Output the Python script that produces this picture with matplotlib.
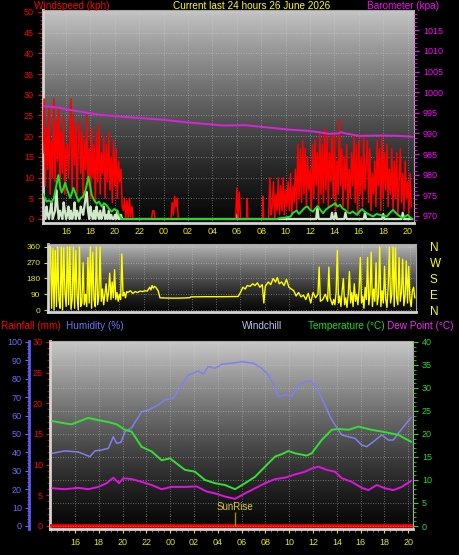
import matplotlib
matplotlib.use("Agg")
import matplotlib.pyplot as plt
import numpy as np
from matplotlib.ticker import MultipleLocator

plt.rcParams['font.family'] = ['Liberation Sans', 'DejaVu Sans']

# hours counted from midnight of the first day (24 = 00 of the next day)

# wind speed (kph), red trace, 6 min samples in the windy spells
gust_a_start = 14.1
gust_a = [16, 29, 8, 22, 12, 27, 6, 19, 10, 29,
          9, 24, 14, 27, 7, 21, 11, 25, 6, 17,
          18, 10, 20, 29, 7, 25, 13, 23, 6, 18,
          24, 11, 21, 5, 19, 12, 25, 8, 17, 5,
          22, 10, 18, 4, 21, 9, 23, 6, 16, 11,
          20, 5, 18, 9, 21, 7, 15, 4, 19, 8,
          17, 5, 14, 9, 12, 3]
gust_b_t = [20.7, 20.8, 20.9, 21.0, 21.1, 21.2, 21.3, 21.4, 21.5,
            23.0, 23.1, 23.2, 23.3,
            24.6, 24.7, 24.8, 24.9, 25.0, 25.1, 25.2,
            29.9, 30.0, 30.1, 30.2, 30.3,
            30.8, 30.85, 30.9,
            32.1, 32.15, 32.2,
            32.6, 32.7, 32.8, 32.9, 33.0, 33.1, 33.2, 33.3, 33.4, 33.5]
gust_b = [2, 5, 0, 4.5, 0, 5, 0.5, 3, 0,
          0, 2, 2, 0,
          0, 4, 1, 5.5, 3, 5, 0,
          0, 7.5, 0, 6.5, 0,
          0, 5, 0,
          0, 5.5, 0,
          0, 10, 1, 3, 9, 0, 6, 2, 10, 1]
gust_c_start = 33.6
gust_c = [8, 2, 10, 1, 7, 3, 9, 2, 11, 1, 8, 4, 12, 2, 18, 5, 17,
          4, 19, 6, 17, 3, 15, 7, 12, 2, 18,
          5, 19, 8, 16, 3, 21, 6, 18, 4, 22,
          7, 20, 3, 16, 9, 21, 5, 20, 2, 14,
          6, 24, 8, 17, 3, 15, 7, 18, 2, 12,
          5, 16, 8, 20, 4, 18, 1, 19, 6, 15,
          3, 20, 7, 13, 19, 4, 17, 2, 11, 6,
          14, 3, 19, 8, 17, 2, 20, 5, 16, 7,
          18, 3, 12, 6, 17, 2, 14, 5, 16, 1,
          9, 17, 4, 11, 2, 14, 5, 9, 1, 11,
          3]

# pale trace (lull)
lull_a_start = 14.1
lull_a = [1, 2, 0, 3, 1, 0, 2, 4, 0, 1,
          2, 7, 3, 0, 2, 1, 0, 4, 2, 0,
          1, 3, 0, 2, 0, 1, 4, 0, 2, 1,
          0, 3, 2, 1, 3, 5, 6.5, 2, 0, 3,
          1, 0, 2, 0, 3, 1, 0, 2, 0, 1,
          3, 0, 1, 0, 2, 0, 1, 0, 0, 1,
          0, 2, 0, 0, 1, 0]
lull_b_t = [20.7, 29.9, 30.0, 30.1, 36.5, 36.6, 36.7, 37.7, 37.8, 37.9,
            38.0, 38.1, 38.2, 38.8, 38.9, 39.0, 40.4, 40.5, 40.6, 41.9,
            42.0, 42.1, 43.5, 43.6, 43.7, 44.36]
lull_b = [0, 0, 1, 0, 0, 3, 0, 0, 1.5, 0,
          0, 1.5, 0, 0, 1.5, 0, 0, 1.5, 0, 0,
          1.2, 0, 0, 1.5, 0, 0]

# average wind (green)
avg_t = [14.1, 14.2, 14.4, 14.6, 14.8, 15.0, 15.2, 15.37, 15.5, 15.64,
         15.8, 15.92, 16.1, 16.33, 16.45, 16.6, 16.8, 17.01, 17.2, 17.42,
         17.6, 17.83, 17.95, 18.1, 18.3, 18.51, 18.7, 18.92, 19.1, 19.33,
         19.5, 19.74, 19.95, 20.15, 20.35, 20.56,
         33.3, 33.5, 33.9, 34.4, 34.6, 34.9, 35.1, 35.4, 35.6, 35.8,
         36.0, 36.25, 36.45, 36.65, 36.85, 37.07, 37.3, 37.64, 37.85, 38.05,
         38.25, 38.46, 38.65, 38.87, 39.05, 39.28, 39.5, 39.85, 40.05, 40.26,
         40.45, 40.67, 40.9, 41.16, 41.45, 41.74, 42.0, 42.3, 42.55, 42.8,
         43.0, 43.2, 43.4, 43.6, 43.8, 44.0, 44.2, 44.36]
avg = [6, 5.5, 4.2, 4.5, 4, 5, 8, 10.6, 8, 6.4,
       7.5, 8.7, 7, 5.1, 6, 7.5, 6, 4.2, 5, 5.5,
       7, 10.2, 8.5, 5.8, 4.5, 3.7, 4.2, 3.0, 3.8, 3.3,
       2.5, 1.8, 2.4, 2.0, 1.0, 0,
       0, 0.2, 0.3, 0.6, 1.5, 2, 1.2, 2.2, 2.8, 3,
       2.2, 1.8, 2.6, 3, 2.2, 1.4, 2.3, 3.0, 3.4, 3.8,
       3.0, 3.4, 2.6, 2.2, 1.6, 1.4, 1.8, 1.0, 1.8, 2.4,
       1.8, 1.4, 1.0, 0.6, 1.2, 1.0, 0.8, 0.6, 1.5, 2.2,
       1.6, 1.0, 0.6, 0.2, 0.6, 1.0, 0.4, 0]

baro_t = [14.2, 15.5, 16.3, 17.3, 18.8, 20.8, 24.0, 26.2, 29.0, 30.7, 32.3,
          34.4, 36.0, 37.6, 38.3, 38.5, 38.9, 40.1, 41.7, 43.4, 44.36]
baro = [996.6, 996.2, 995.7, 995.2, 994.5, 994.0, 993.3, 992.6, 991.9, 992.0, 991.5,
        990.9, 990.6, 989.9, 990.0, 990.3, 990.0, 989.4, 989.5, 989.4, 989.2]

# wind direction (degrees)
dir_a_start = 14.3
dir_a = [360, 10, 350, 0, 340, 20, 360, 60, 10, 360,
         0, 355, 100, 20, 360, 30, 360, 5, 60, 360,
         10, 340, 80, 0, 360, 20, 40, 270, 30, 90,
         20, 300, 40, 360, 10, 330, 60, 20, 360, 30,
         80, 360, 50, 120, 30, 90, 150, 50, 100, 210,
         60, 160, 70, 230, 60, 100, 50, 90, 60, 320,
         80, 100, 70, 105]
dir_b_t = [20.7, 20.9, 21.1, 21.3, 21.5, 21.7, 21.9, 22.1, 22.3, 22.5,
           22.6, 22.7, 22.8, 22.9, 23.0, 23.2, 23.35,
           24.0, 25.0, 25.8, 25.9, 27.0, 28.5, 29.8,
           30.0, 30.2, 30.4, 30.55, 30.8, 31.0, 31.2, 31.4, 31.6, 31.8,
           31.93, 32.05, 32.3, 32.5, 32.7, 32.9, 33.04, 33.2, 33.4, 33.6,
           33.8, 34.0, 34.2, 34.4, 34.6, 34.8, 35.0, 35.2, 35.4, 35.6,
           35.8, 36.0, 36.2, 36.4, 36.5, 36.6, 36.8, 37.0, 37.2, 37.3,
           37.4, 37.6]
dir_b = [100, 110, 95, 105, 100, 108, 105, 110, 108, 130,
         115, 140, 125, 135, 130, 110, 70,
         68, 68, 70, 75, 76, 76, 77,
         100, 130, 120, 140, 135, 150, 140, 155, 130, 145,
         40, 135, 160, 145, 180, 160, 185, 150, 160, 140,
         175, 130, 120, 110, 80, 100, 75, 85, 60, 95,
         40, 100, 70, 90, 245, 50, 60, 90, 50, 245,
         70, 30]
dir_c_start = 37.7
dir_c = [60, 30, 100, 340, 40, 80, 20, 110, 180, 30,
         70, 15, 90, 220, 40, 100, 20, 150, 50, 90,
         30, 120, 300, 40, 80, 10, 130, 60, 300, 30,
         90, 330, 20, 120, 50, 270, 30, 80, 360, 20,
         110, 40, 250, 60, 15, 130, 360, 40, 90, 360,
         20, 355, 70, 30, 300, 50, 100, 290, 25, 80,
         280, 40, 250, 60, 20, 110, 130, 70]

# humidity (%), temperature and dew point (C), rainfall (mm)
hum_t = [14.10, 15.16, 16.28, 17.26, 17.68, 18.24, 18.80, 19.22, 19.50, 19.87,
         20.20, 20.76, 21.60, 22.16, 23.00, 23.56, 24.26, 24.96, 25.52, 26.36,
         26.78, 27.20, 27.76, 28.32, 29.17, 30.01, 30.99, 31.69, 32.25, 32.67,
         33.09, 33.65, 34.21, 34.77, 35.33, 35.89, 36.45, 37.01, 37.43, 37.85,
         38.41, 38.97, 39.53, 40.09, 40.51, 41.07, 41.77, 42.33, 42.75, 43.17,
         43.73, 44.24]
hum = [39.5, 40.8, 40.2, 37.7, 40.8, 41.3, 42.2, 48.5, 44.9, 45.5,
       51.3, 53.4, 62.1, 63, 65.8, 68.5, 69.4, 76.6, 82, 84.2,
       82.6, 86.6, 85.7, 87.9, 88.4, 89.3, 88.4, 85.7, 82, 76.6,
       70.3, 71.2, 70.3, 76.6, 78.4, 78.8, 73, 65.8, 59.4, 54.9,
       49.5, 48.5, 47.6, 44, 43.1, 45.8, 49.5, 46.7, 46.7, 50.4,
       54.9, 58.9]
temp_t = [14.10, 15.16, 15.72, 17.12, 17.96, 18.80, 19.50, 20.20, 20.76, 21.60,
          22.44, 23.28, 23.98, 24.68, 25.24, 26.08, 26.92, 27.76, 28.61, 29.45,
          30.29, 31.13, 31.97, 32.81, 33.37, 33.93, 34.49, 35.47, 35.89, 36.73,
          37.57, 38.13, 38.97, 39.81, 40.93, 42.05, 43.17, 44.24]
temp = [22.8, 22.3, 22.1, 23.5, 23.0, 22.6, 22.1, 20.9, 20.5, 17.2,
        16.2, 14.3, 14.7, 13.3, 12.2, 11.8, 10, 9.3, 8.9, 8.0,
        9.3, 10.7, 12.9, 15.1, 15.6, 16.3, 15.8, 15.3, 15.8, 18.7,
        20.9, 21.1, 20.9, 21.6, 20.9, 20.4, 19.8, 18.3]
dew_t = [14.10, 15.16, 16.28, 17.12, 17.96, 18.66, 19.22, 19.70, 20.06, 20.76,
         21.60, 22.44, 23.28, 24.12, 25.24, 26.22, 27.06, 27.76, 28.61, 29.45,
         30.29, 31.13, 31.97, 32.81, 33.65, 34.49, 35.33, 35.89, 36.45, 37.15,
         37.85, 38.41, 39.25, 40.09, 40.65, 41.35, 42.05, 42.75, 43.45, 44.24]
dew = [8.2, 8.0, 8.3, 8.0, 8.5, 9.3, 10.5, 9.3, 10.4, 10.2,
       9.6, 8.9, 8.0, 8.5, 8.5, 8.6, 7.5, 7.1, 6.4, 5.9,
       7.1, 8.2, 9.3, 10.2, 10.5, 11.2, 11.8, 12.5, 12.9, 12.2,
       11.8, 10.4, 9.6, 8.3, 7.8, 8.9, 8.2, 7.8, 8.5, 9.8]
rain_t = [13.9, 44.4]
rain = [0, 0]
sunrise = 29.45

hour_ticks = list(range(16, 45, 2))
hour_labels = [f"{h % 24:02d}" for h in hour_ticks]
compass_deg = [0, 90, 180, 270, 360]
compass = ["N", "E", "S", "W", "N"]


def steps(start, vals):
    return start + 0.1 * np.arange(len(vals))


gust_time = np.concatenate([steps(gust_a_start, gust_a), gust_b_t, steps(gust_c_start, gust_c)])
gust_val = gust_a + gust_b + gust_c
lull_time = np.concatenate([steps(lull_a_start, lull_a), lull_b_t])
lull_val = lull_a + lull_b
dir_time = np.concatenate([steps(dir_a_start, dir_a), dir_b_t, steps(dir_c_start, dir_c)])
dir_val = dir_a + dir_b + dir_c

W, H = 459, 555
GRID = dict(color='#d8d8d8', ls=(0, (1, 2)), lw=0.6, alpha=0.55)
HEAD = 7.2


def box(x0, y0, x1, y1):
    return [x0 / W, 1 - y1 / H, (x1 - x0) / W, (y1 - y0) / H]


def shade(ax, top=0.77, bottom=0.03):
    g = np.linspace(0, 1, 256)[:, None]
    v = bottom + (top - bottom) * (1 - g) ** 1.3
    ax.imshow(v, extent=(0, 1, 0, 1), transform=ax.transAxes, aspect='auto',
              cmap='gray', vmin=0, vmax=1, zorder=0)
    for s in ['left', 'bottom']:
        ax.spines[s].set_color('#d4d4d4')
        ax.spines[s].set_linewidth(2)
    for s in ['top', 'right']:
        ax.spines[s].set_color('#a8a8a8')
        ax.spines[s].set_linewidth(0.8)


def hide_spines(ax):
    for s in ax.spines.values():
        s.set_visible(False)


fig = plt.figure(figsize=(W / 100, H / 100), dpi=100, facecolor='black')

# ---- wind speed / barometer
ax1 = fig.add_axes(box(43, 10, 414, 223))
shade(ax1)
ax1.plot(lull_time, lull_val, color='#cfe8c8', lw=1.6, zorder=2)
ax1.plot(gust_time, gust_val, color='#ff0000', lw=1.1, zorder=3)
ax1.plot(avg_t, avg, color='#22dd22', lw=1.4, zorder=4)
ax1.set_xlim(14.11, 44.52)
ax1.set_ylim(-0.97, 50.48)
ax1.set_xticks(hour_ticks, hour_labels)
ax1.set_yticks(np.arange(0, 51, 5))
ax1.yaxis.set_minor_locator(MultipleLocator(1))
ax1.tick_params(axis='y', which='both', colors='#ff0000', labelsize=6.5)
ax1.tick_params(axis='y', which='major', length=3.5, pad=3)
ax1.tick_params(axis='y', which='minor', length=2)
ax1.tick_params(axis='x', colors='#e8e800', labelsize=6.5, length=0, pad=3)
ax1.grid(True, **GRID)

axb = ax1.twinx()
hide_spines(axb)
axb.plot(baro_t, baro, color='#dd22dd', lw=1.4)
axb.set_ylim(968.3, 1019.9)
axb.set_yticks(np.arange(970, 1016, 5))
axb.yaxis.set_minor_locator(MultipleLocator(1))
axb.tick_params(axis='y', which='both', colors='#ff00ff', labelsize=6.5)
axb.tick_params(axis='y', which='major', length=3.5, pad=3)
axb.tick_params(axis='y', which='minor', length=2)

# ---- wind direction
ax2 = fig.add_axes(box(48, 244, 416, 312))
shade(ax2, top=0.72)
ax2.plot(dir_time, dir_val, color='#ffff00', lw=1.0, zorder=3)
ax2.set_xlim(14.1, 44.5)
ax2.set_ylim(-11.4, 377)
ax2.set_xticks(hour_ticks)
ax2.set_yticks(compass_deg)
ax2.tick_params(axis='x', length=0, labelbottom=False)
ax2.tick_params(axis='y', colors='#e8e800', labelsize=6, length=3, pad=2.5)
ax2.grid(True, **GRID)

axd = ax2.twinx()
hide_spines(axd)
axd.set_ylim(-11.4, 377)
axd.set_yticks(compass_deg, compass)
axd.tick_params(axis='y', colors='#ffff00', labelsize=8.5, length=0, pad=10)

# ---- rainfall / humidity / temperature
ax3 = fig.add_axes(box(50, 341, 413, 529))
shade(ax3, top=0.78)
ax3.plot(rain_t, rain, color='#ff0000', lw=2.6, zorder=5)
ax3.set_xlim(13.9, 44.4)
ax3.set_ylim(-0.49, 30.16)
ax3.set_xticks(hour_ticks, hour_labels)
ax3.xaxis.set_minor_locator(MultipleLocator(0.5))
ax3.set_yticks(np.arange(0, 31, 5))
ax3.yaxis.set_minor_locator(MultipleLocator(1))
ax3.tick_params(axis='y', which='both', colors='#ff0000', labelsize=6.5)
ax3.tick_params(axis='y', which='major', length=3, pad=2)
ax3.tick_params(axis='y', which='minor', length=2)
ax3.tick_params(axis='x', which='major', colors='#e8e800', labelsize=6.5, length=3, pad=3.5)
ax3.tick_params(axis='x', which='minor', colors='#909090', length=2)
ax3.grid(True, axis='x', **GRID)

axh = ax3.twinx()
hide_spines(axh)
axh.spines['left'].set_visible(True)
axh.spines['left'].set_position(('axes', -0.058))
axh.spines['left'].set_color('#5a5af0')
axh.spines['left'].set_linewidth(2)
axh.yaxis.set_ticks_position('left')
axh.yaxis.set_label_position('left')
axh.plot(hum_t, hum, color='#7f7ff0', lw=1.1)
axh.set_ylim(-1.63, 100.5)
axh.set_yticks(np.arange(0, 101, 10))
axh.yaxis.set_minor_locator(MultipleLocator(2))
axh.tick_params(axis='y', which='both', colors='#6a6aff', labelsize=6.5)
axh.tick_params(axis='y', which='major', length=3, pad=2)
axh.tick_params(axis='y', which='minor', length=1.8)

axt = ax3.twinx()
hide_spines(axt)
axt.plot(temp_t, temp, color='#33e033', lw=1.4)
axt.plot(dew_t, dew, color='#e014e0', lw=1.4)
axt.vlines(sunrise, 0, 3.0, color='#a08a10', lw=1)
axt.text(sunrise, 4.2, "SunRise", color='#d8c640', fontsize=7, ha='center', va='center')
axt.set_ylim(-0.65, 40.2)
axt.set_yticks(np.arange(0, 41, 5))
axt.yaxis.set_minor_locator(MultipleLocator(1))
axt.tick_params(axis='y', which='both', colors='#22dd22', labelsize=6.5)
axt.tick_params(axis='y', which='major', length=3.5, pad=3)
axt.tick_params(axis='y', which='minor', length=2)
axt.grid(True, axis='y', **GRID)
axt.set_axisbelow(True)

# ---- headings
ty = 1 - 6 / H
fig.text(34 / W, ty, "Windspeed (kph)", color='#ff0000', fontsize=HEAD, va='center')
fig.text(252 / W, ty, "Current last 24 hours 26 June 2026", color='#ffff00',
         fontsize=HEAD, va='center', ha='center')
fig.text(367 / W, ty, "Barometer (kpa)", color='#ff00ff', fontsize=HEAD, va='center')

ly = 1 - 326 / H
fig.text(1 / W, ly, "Rainfall (mm)", color='#ff0000', fontsize=HEAD, va='center')
fig.text(66 / W, ly, "Humidity (%)", color='#7070ff', fontsize=HEAD, va='center')
fig.text(242 / W, ly, "Windchill", color='#b8c6f0', fontsize=HEAD, va='center')
fig.text(308 / W, ly, "Temperature (°C)", color='#10e010', fontsize=HEAD, va='center')
fig.text(387 / W, ly, "Dew Point (°C)", color='#ff20ff', fontsize=HEAD, va='center')

fig.savefig("out.png", dpi=100, facecolor='black')
